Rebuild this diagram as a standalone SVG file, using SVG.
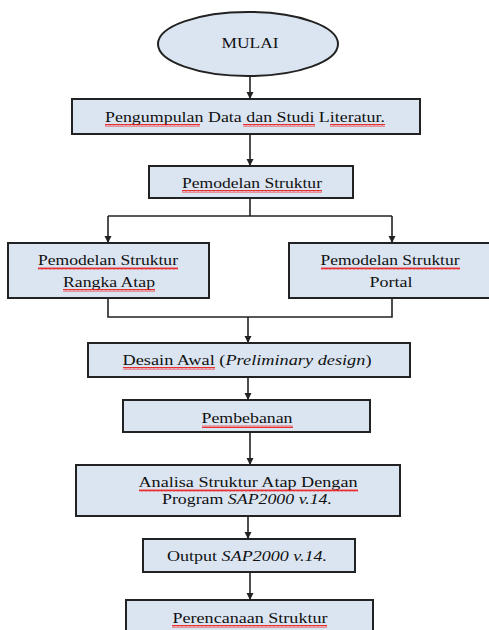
<svg xmlns="http://www.w3.org/2000/svg" width="489" height="630" viewBox="0 0 489 630">
<style>
.box{fill:#dbe5f1;stroke:#222;stroke-width:2}
.t{font-family:'Liberation Serif','Times New Roman','DejaVu Serif',serif;font-size:14px;fill:#111;text-anchor:middle}
.i{font-style:italic}
.c{fill:none;stroke:#222;stroke-width:1.6}
.sq{fill:url(#squig)}
</style>
<defs>
<marker id="ah" markerWidth="8" markerHeight="8" refX="7" refY="4" orient="auto" markerUnits="userSpaceOnUse">
<path d="M0,0.5 L7,4 L0,7.5 Z" fill="#222"/>
</marker>
<pattern id="squig" width="4" height="3" patternUnits="userSpaceOnUse">
<path d="M0,2.5 L1,0.5 L2,2.5 L3,0.5 L4,2.5" fill="none" stroke="#e00" stroke-width="0.8"/>
</pattern>
</defs>

<g id="connectors">
<line class="c" x1="250" y1="76" x2="250" y2="99" marker-end="url(#ah)"/>
<line class="c" x1="250" y1="134" x2="250" y2="166" marker-end="url(#ah)"/>
<polyline class="c" points="250,198 250,216"/>
<polyline class="c" points="108,216 392,216"/>
<line class="c" x1="108" y1="216" x2="108" y2="243" marker-end="url(#ah)"/>
<line class="c" x1="392" y1="216" x2="392" y2="243" marker-end="url(#ah)"/>
<polyline class="c" points="108,298 108,317 392,317 392,298"/>
<line class="c" x1="248" y1="317" x2="248" y2="343" marker-end="url(#ah)"/>
<line class="c" x1="248" y1="377" x2="248" y2="400" marker-end="url(#ah)"/>
<line class="c" x1="250" y1="432" x2="250" y2="465" marker-end="url(#ah)"/>
<line class="c" x1="248" y1="516" x2="248" y2="539" marker-end="url(#ah)"/>
<line class="c" x1="250" y1="572" x2="250" y2="600" marker-end="url(#ah)"/>
</g>

<g id="mulai">
<ellipse class="box" cx="248" cy="44" rx="90" ry="32"/>
<text class="t" x="250" y="48" textLength="57" lengthAdjust="spacingAndGlyphs">MULAI</text>
</g>

<g id="pengumpulan">
<rect class="box" x="72" y="99" width="348" height="35"/>
<text class="t" x="245" y="122" textLength="280" lengthAdjust="spacingAndGlyphs">Pengumpulan Data dan Studi  Literatur.</text>
<rect class="sq" x="105" y="124" width="95" height="3"/>
<rect class="sq" x="243" y="124" width="72" height="3"/>
<rect class="sq" x="330" y="124" width="55" height="3"/>
</g>

<g id="pemodelan">
<rect class="box" x="149" y="166" width="204" height="32"/>
<text class="t" x="252" y="188" textLength="140" lengthAdjust="spacingAndGlyphs">Pemodelan Struktur</text>
<rect class="sq" x="182" y="190" width="140" height="3"/>
</g>

<g id="rangka-atap">
<rect class="box" x="8" y="243" width="201" height="55"/>
<text class="t" x="108" y="265" textLength="140" lengthAdjust="spacingAndGlyphs">Pemodelan Struktur</text>
<text class="t" x="109" y="287" textLength="92" lengthAdjust="spacingAndGlyphs">Rangka Atap</text>
<rect class="sq" x="38" y="267" width="140" height="3"/>
<rect class="sq" x="63" y="289" width="92" height="3"/>
</g>

<g id="portal">
<rect class="box" x="289" y="243" width="210" height="55"/>
<text class="t" x="390" y="265" textLength="139" lengthAdjust="spacingAndGlyphs">Pemodelan Struktur</text>
<text class="t" x="391" y="287" textLength="43" lengthAdjust="spacingAndGlyphs">Portal</text>
<rect class="sq" x="321" y="267" width="139" height="3"/>
</g>

<g id="desain-awal">
<rect class="box" x="88" y="343" width="322" height="34"/>
<text class="t" x="247" y="365" textLength="249" lengthAdjust="spacingAndGlyphs">Desain Awal (<tspan class="i">Preliminary  design</tspan>)</text>
<rect class="sq" x="123" y="367" width="92" height="3"/>
</g>

<g id="pembebanan">
<rect class="box" x="123" y="400" width="247" height="32"/>
<text class="t" x="247" y="423" textLength="91" lengthAdjust="spacingAndGlyphs">Pembebanan</text>
<rect class="sq" x="202" y="425" width="91" height="3"/>
</g>

<g id="analisa">
<rect class="box" x="76" y="465" width="324" height="51"/>
<text class="t" x="248" y="487" textLength="219" lengthAdjust="spacingAndGlyphs">Analisa Struktur Atap Dengan</text>
<text class="t" x="247" y="504" textLength="170" lengthAdjust="spacingAndGlyphs">Program <tspan class="i">SAP2000  v.14.</tspan></text>
<rect class="sq" x="139" y="489" width="219" height="3"/>
</g>

<g id="output">
<rect class="box" x="143" y="539" width="212" height="33"/>
<text class="t" x="247" y="561" textLength="160" lengthAdjust="spacingAndGlyphs">Output <tspan class="i">SAP2000  v.14.</tspan></text>
</g>

<g id="perencanaan">
<rect class="box" x="126" y="600" width="247" height="40"/>
<text class="t" x="250" y="623" textLength="155" lengthAdjust="spacingAndGlyphs">Perencanaan Struktur</text>
<rect class="sq" x="172" y="625" width="155" height="3"/>
</g>
</svg>
